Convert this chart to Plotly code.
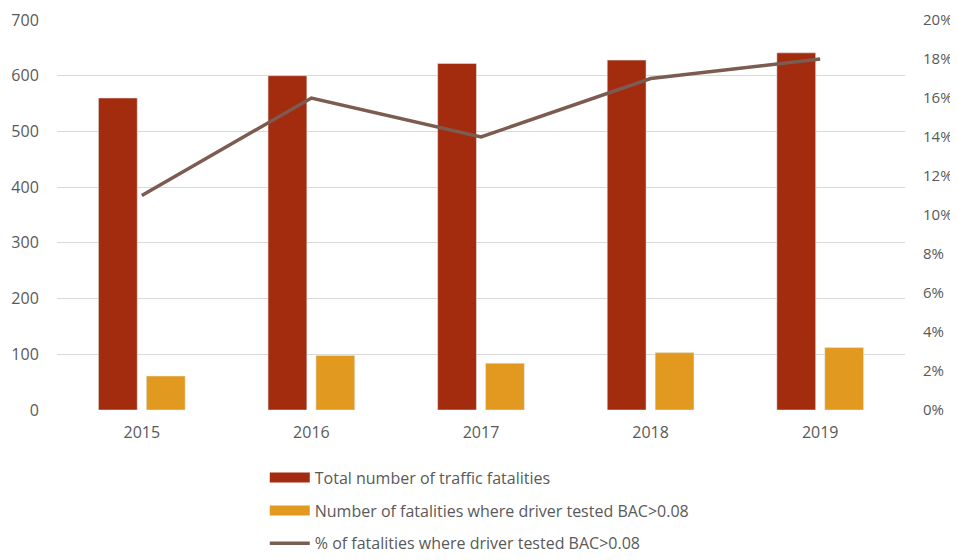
import plotly.graph_objects as go

years = ["2015", "2016", "2017", "2018", "2019"]
total_fatalities = [560, 600, 622, 628, 641]
bac_fatalities = [61, 98, 84, 103, 112]
bac_percent = [0.11, 0.16, 0.14, 0.17, 0.18]

names = [
    "Total number of traffic fatalities",
    "Number of fatalities where driver tested BAC>0.08",
    "% of fatalities where driver tested BAC>0.08",
]

red = "#A32B0E"
orange = "#E1991F"
brown = "#7C5B51"
txt = "#595959"
font_family = "Open Sans, Liberation Sans, sans-serif"

fig = go.Figure()
fig.add_trace(go.Bar(x=years, y=total_fatalities, name=names[0], marker_color=red,
                     showlegend=False, yaxis="y"))
fig.add_trace(go.Bar(x=years, y=bac_fatalities, name=names[1], marker_color=orange,
                     showlegend=False, yaxis="y"))
fig.add_trace(go.Scatter(x=years, y=bac_percent, name=names[2], mode="lines",
                         line=dict(color=brown, width=3.5), showlegend=False, yaxis="y2"))

# legend entries (wide swatches like the original)
for nm, col, w, grp in [(names[0], red, 10, "a"), (names[1], orange, 10, "b"), (names[2], brown, 3.5, "c")]:
    fig.add_trace(go.Scatter(x=[None], y=[None], name=nm, mode="lines",
                             line=dict(color=col, width=w), legendgroup=grp, yaxis="y"))

fig.update_layout(
    width=950, height=552,
    margin=dict(l=49, r=53, t=12, b=150, autoexpand=False),
    paper_bgcolor="white", plot_bgcolor="white",
    font=dict(family=font_family, size=16, color=txt),
    barmode="group", bargap=0.435, bargroupgap=0.19,
    xaxis=dict(showgrid=False, showline=False, ticks="outside", ticklen=8, tickcolor="white",
               automargin=False, tickfont=dict(size=16, color=txt)),
    yaxis=dict(range=[0, 700], dtick=100, showgrid=True, gridcolor="#D9D9D9", gridwidth=1,
               zeroline=False, showline=False, ticks="outside", ticklen=14, tickcolor="white",
               automargin=False, ticklabeloverflow="allow", tickfont=dict(size=16, color=txt)),
    yaxis2=dict(range=[0, 0.2], dtick=0.02, tickformat=".0%", overlaying="y", side="right",
                showgrid=False, zeroline=False, showline=False, ticks="outside", ticklen=14,
                tickcolor="white", automargin=False, ticklabeloverflow="allow",
                tickfont=dict(size=15, color=txt)),
    legend=dict(orientation="v", x=0.245, xanchor="left", y=-0.13, yanchor="top",
                itemwidth=40, tracegroupgap=9, font=dict(size=16, color=txt),
                traceorder="grouped"),
    showlegend=True,
)

fig.write_html("out.html")
